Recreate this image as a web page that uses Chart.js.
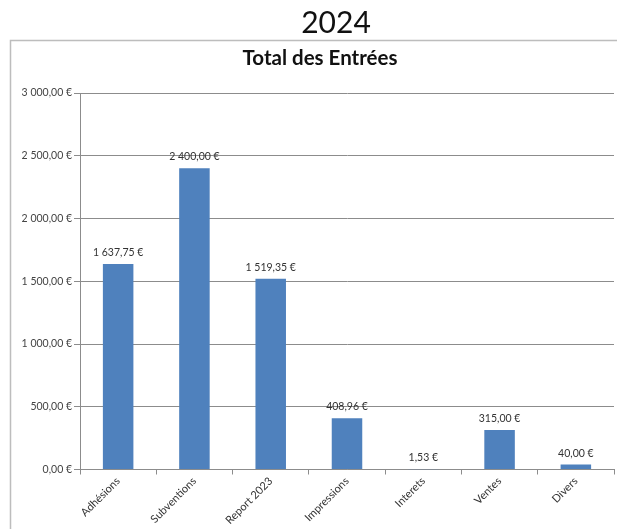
<!DOCTYPE html>
<html><head><meta charset="utf-8">
<script src="https://cdn.jsdelivr.net/npm/chart.js@4.4.1/dist/chart.umd.min.js"></script>
<style>html,body{margin:0;padding:0;background:#fff;}#wrap{width:617px;height:529px;position:relative;}</style>
</head><body><div id="wrap"><canvas id="c" width="617" height="529"></canvas></div>
<script>
const categories = ["Adhésions","Subventions","Report 2023","Impressions","Interets","Ventes","Divers"];
const values = [1637.75, 2400.00, 1519.35, 408.96, 1.53, 315.00, 40.00];
const pageTitle = "2024";
const chartTitle = "Total des Entrées";
const yMax = 3000, yStep = 500;

function fmt(v){
  const s = v.toFixed(2).split('.');
  const int = s[0].replace(/\B(?=(\d{3})+(?!\d))/g, ' ');
  return int + ',' + s[1] + ' €';
}
const FONT = 'Lato, "Open Sans", sans-serif';

const framePlugin = {
  id:'frame',
  beforeDraw(chart){
    const ctx = chart.ctx;
    ctx.save();
    ctx.fillStyle = '#fff';
    ctx.fillRect(0,0,chart.width,chart.height);
    ctx.strokeStyle = '#bdbdbd';
    ctx.lineWidth = 1.5;
    ctx.strokeRect(10.5, 40.5, chart.width + 20, chart.height + 20);
    ctx.fillStyle = '#111';
    ctx.textAlign = 'center';
    ctx.textBaseline = 'middle';
    ctx.font = '30px ' + FONT;
    ctx.fillText(pageTitle, 336, 23);
    ctx.font = 'bold 20.5px ' + FONT;
    ctx.fillText(chartTitle, 320, 58);
    ctx.restore();
  }
};
const labelPlugin = {
  id:'vlabels',
  afterDatasetsDraw(chart){
    const ctx = chart.ctx;
    const meta = chart.getDatasetMeta(0);
    ctx.save();
    ctx.fillStyle = '#333';
    ctx.font = '10.5px ' + FONT;
    ctx.textAlign = 'center';
    ctx.textBaseline = 'bottom';
    meta.data.forEach((bar,i)=>{
      ctx.fillText(fmt(values[i]), bar.x, bar.y - 6);
    });
    ctx.restore();
  }
};

new Chart(document.getElementById('c'), {
  type:'bar',
  data:{labels:categories, datasets:[{data:values, backgroundColor:'#4F81BD', borderWidth:0, barPercentage:0.8, categoryPercentage:0.5}]},
  options:{
    responsive:false, animation:false,
    layout:{padding:{top:93,left:12,right:3,bottom:2}},
    plugins:{ legend:{display:false}, tooltip:{enabled:false} },
    scales:{
      y:{
        min:0, max:yMax,
        ticks:{stepSize:yStep, callback:v=>fmt(v), color:'#444', font:{family:FONT,size:10.5}, padding:2},
        grid:{color:'#8c8c8c', lineWidth:1, tickLength:6, drawTicks:true},
        border:{display:true, color:'#8c8c8c'},
        afterFit(s){ s.width = 68; }
      },
      x:{
        ticks:{minRotation:45, maxRotation:45, color:'#333', font:{family:FONT,size:11}, padding:0},
        grid:{offset:true, drawOnChartArea:false, drawTicks:true, tickLength:5, color:'#8c8c8c'},
        border:{display:true, color:'#8c8c8c'}
      }
    }
  },
  plugins:[framePlugin, labelPlugin]
});
</script></body></html>
